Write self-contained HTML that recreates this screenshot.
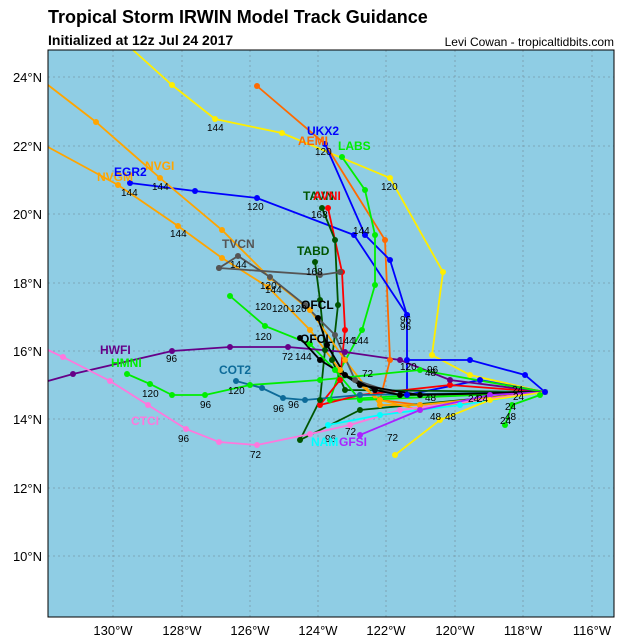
<!DOCTYPE html>
<html><head><meta charset="utf-8"><style>
body{margin:0;background:#fff;width:636px;height:636px;overflow:hidden;font-family:"Liberation Sans",sans-serif}
</style></head><body>
<svg id="s" width="636" height="636" xmlns="http://www.w3.org/2000/svg" font-family="Liberation Sans, sans-serif">
<text x="48" y="23" font-size="18" font-weight="bold">Tropical Storm IRWIN Model Track Guidance</text>
<text x="48" y="45" font-size="14" font-weight="bold">Initialized at 12z Jul 24 2017</text>
<text x="614" y="46" font-size="12" text-anchor="end">Levi Cowan - tropicaltidbits.com</text>
<rect x="48" y="50" width="566" height="567" fill="#8fcde4"/>
<g stroke="#7a9aa8" stroke-dasharray="2,3" stroke-width="0.8">
<line x1="113" y1="50" x2="113" y2="617"/><line x1="182" y1="50" x2="182" y2="617"/><line x1="250" y1="50" x2="250" y2="617"/><line x1="318" y1="50" x2="318" y2="617"/><line x1="386" y1="50" x2="386" y2="617"/><line x1="455" y1="50" x2="455" y2="617"/><line x1="523" y1="50" x2="523" y2="617"/><line x1="592" y1="50" x2="592" y2="617"/>
<line x1="48" y1="77" x2="614" y2="77"/><line x1="48" y1="146" x2="614" y2="146"/><line x1="48" y1="214" x2="614" y2="214"/><line x1="48" y1="283" x2="614" y2="283"/><line x1="48" y1="351" x2="614" y2="351"/><line x1="48" y1="419" x2="614" y2="419"/><line x1="48" y1="488" x2="614" y2="488"/><line x1="48" y1="556" x2="614" y2="556"/>
</g>
<g id="tr" fill="none" stroke-width="1.8">
<polyline stroke="#ffee00" points="133,50 172,85 215,119 282,133 390,178 443,272 432,355 470,375 545,392"/>
<polyline stroke="#ff6a00" points="257,86 325,144 385,240 390,360 380,400 420,405 545,392"/>
<polyline stroke="#0000ff" points="325,144 365,235 390,260 407,315 407,395 480,380 545,392"/>
<polyline stroke="#0000ff" points="130,183 195,191 257,198 354,235 407,315"/>
<polyline stroke="#00ee00" points="342,157 365,190 375,235 375,285 362,330 340,370 330,400 420,395 545,392"/>
<polyline stroke="#ff0000" points="328,208 342,272 345,330 340,380 320,405 360,395 450,385 545,392"/>
<polyline stroke="#005500" points="322,208 335,240 338,305 332,360 345,390 545,392"/>
<polyline stroke="#005500" points="315,262 320,300 325,350 320,400 300,440 360,410 545,392"/>
<polyline stroke="#ffa500" points="48,147 118,185 178,226 222,258 268,287 310,330 340,370 380,400 420,410 545,392"/>
<polyline stroke="#ffa500" points="48,85 96,122 160,178 222,230 270,278 310,310 345,360 380,405 420,405 545,392"/>
<polyline stroke="#555555" points="219,268 238,256 270,277 305,305 335,335 355,380 400,395 545,392"/>
<polyline stroke="#555555" points="219,268 320,275 340,272"/>
<polyline stroke="#00ee00" points="230,296 265,326 310,344 335,370 360,400 545,392"/>
<polyline stroke="#660088" points="48,381 73,374 172,351 230,347 288,347 345,352 400,360 450,380 545,392"/>
<polyline stroke="#00ee00" points="127,374 150,384 172,395 205,395 250,385 320,380 420,370 545,392"/>
<polyline stroke="#ff77dd" points="48,350 63,357 110,381 148,405 186,429 219,442 257,445 310,434 350,425 400,410 545,392"/>
<polyline stroke="#0d6b99" points="236,381 262,388 283,398 305,400 360,395 545,392"/>
<polyline stroke="#000000" points="318,318 327,345 345,375 375,390 400,395 545,392"/>
<polyline stroke="#000000" points="300,338 320,360 360,385 420,395 545,392"/>
<polyline stroke="#00ffff" points="328,425 380,415 460,405 545,392"/>
<polyline stroke="#aa22ff" points="360,435 420,410 490,395 545,392"/>
<polyline stroke="#ffee00" points="395,455 440,420 490,400 545,392"/>
<polyline stroke="#00ee00" points="505,425 512,405 540,395"/>
<polyline stroke="#0000ff" points="407,360 470,360 525,375 545,392"/>
</g>
<g font-size="10" fill="#000">
<text x="207" y="131">144</text><text x="381" y="190">120</text><text x="315" y="155">120</text><text x="121" y="196">144</text><text x="152" y="190">144</text>
<text x="247" y="210">120</text><text x="170" y="237">144</text><text x="311" y="218">168</text><text x="353" y="234">144</text><text x="230" y="268">144</text>
<text x="260" y="289">120</text><text x="306" y="275">168</text><text x="265" y="293">144</text><text x="255" y="310">120</text><text x="272" y="312">120</text><text x="290" y="312">120</text>
<text x="400" y="323">96</text><text x="400" y="330">96</text><text x="255" y="340">120</text><text x="282" y="360">72</text><text x="295" y="360">144</text><text x="338" y="344">144</text><text x="352" y="344">144</text>
<text x="166" y="362">96</text><text x="142" y="397">120</text><text x="200" y="408">96</text><text x="228" y="394">120</text><text x="273" y="412">96</text><text x="288" y="408">96</text>
<text x="178" y="442">96</text><text x="250" y="458">72</text><text x="325" y="442">96</text><text x="345" y="435">72</text><text x="387" y="441">72</text><text x="430" y="420">48</text><text x="445" y="420">48</text><text x="425" y="401">48</text>
<text x="362" y="377">72</text><text x="400" y="370">120</text><text x="425" y="376">48</text><text x="427" y="373">96</text><text x="468" y="402">24</text><text x="513" y="400">24</text><text x="505" y="410">24</text><text x="477" y="402">24</text><text x="505" y="420">48</text><text x="500" y="424">24</text><text x="512" y="393">24</text>
</g>
<g font-size="12" font-weight="bold">
<text x="307" y="135" fill="#0000ff">UKX2</text><text x="298" y="145" fill="#ff6a00">AEMI</text><text x="338" y="150" fill="#00ee00">LABS</text>
<text x="145" y="170" fill="#ffa500">NVGI</text><text x="97" y="181" fill="#ffa500">NVGM</text><text x="114" y="176" fill="#0000ff">EGR2</text>
<text x="303" y="200" fill="#005500">TAVN</text><text x="313" y="200" fill="#ff0000">AVNI</text><text x="222" y="248" fill="#555555">TVCN</text><text x="297" y="255" fill="#005500">TABD</text>
<text x="301" y="309" fill="#000">OFCL</text><text x="300" y="343" fill="#000">OFCL</text>
<text x="100" y="354" fill="#660088">HWFI</text><text x="111" y="367" fill="#00ee00">HMNI</text><text x="131" y="425" fill="#ff77dd">CTCI</text>
<text x="219" y="374" fill="#0d6b99">COT2</text><text x="311" y="446" fill="#00ffff">NAM</text><text x="339" y="446" fill="#aa22ff">GFSI</text>
</g>
<rect x="48" y="50" width="566" height="567" fill="none" stroke="#000" stroke-width="1"/>
<g font-size="13" fill="#000">
<text x="113" y="635" text-anchor="middle">130°W</text><text x="182" y="635" text-anchor="middle">128°W</text><text x="250" y="635" text-anchor="middle">126°W</text><text x="318" y="635" text-anchor="middle">124°W</text><text x="386" y="635" text-anchor="middle">122°W</text><text x="455" y="635" text-anchor="middle">120°W</text><text x="523" y="635" text-anchor="middle">118°W</text><text x="592" y="635" text-anchor="middle">116°W</text>
<text x="42" y="82" text-anchor="end">24°N</text><text x="42" y="151" text-anchor="end">22°N</text><text x="42" y="219" text-anchor="end">20°N</text><text x="42" y="288" text-anchor="end">18°N</text><text x="42" y="356" text-anchor="end">16°N</text><text x="42" y="424" text-anchor="end">14°N</text><text x="42" y="493" text-anchor="end">12°N</text><text x="42" y="561" text-anchor="end">10°N</text>
</g>
</svg>
<script>
var ns="http://www.w3.org/2000/svg",g=document.getElementById("tr");
[].slice.call(g.querySelectorAll("polyline")).forEach(function(p){
 var c=p.getAttribute("stroke");
 p.getAttribute("points").trim().split(/\s+/).forEach(function(pt){
  var a=pt.split(","),x=+a[0],y=+a[1];
  if(x<=49||y<=51)return;
  var e=document.createElementNS(ns,"circle");e.setAttribute("cx",x);e.setAttribute("cy",y);e.setAttribute("r",3);e.setAttribute("fill",c);e.setAttribute("stroke","none");g.appendChild(e);
 });
});
</script>
</body></html>
